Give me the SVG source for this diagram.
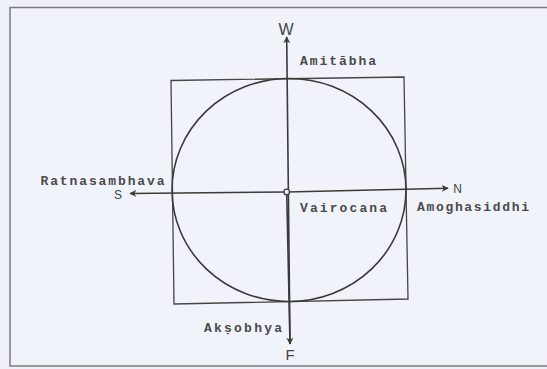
<svg xmlns="http://www.w3.org/2000/svg" width="547" height="369" viewBox="0 0 547 369">
  <style>
    .ln { fill: none; stroke: #3a3a3a; stroke-width: 1.6; }
    .thin { fill: none; stroke: #454545; stroke-width: 1.3; }
    .lbl { font-family: "Liberation Mono", "Courier New", monospace; font-weight: bold; font-size: 13px; fill: #4a4a4a; }
    .dir { font-family: "Liberation Sans", Arial, sans-serif; fill: #444; }
  </style>
  <defs>
    <marker id="arr" viewBox="0 0 10 10" refX="9" refY="5" markerWidth="7" markerHeight="7" orient="auto" markerUnits="userSpaceOnUse">
      <path d="M0,0 L10,5 L0,10 L3,5 Z" fill="#3a3a3a"/>
    </marker>
  </defs>
  <rect x="0" y="0" width="547" height="369" fill="#eef2f8"/>
  <g id="frame">
    <rect x="10" y="7.5" width="540" height="358.5" fill="#f0f3f9" stroke="#7a7a7a" stroke-width="1.5"/>
  </g>
  <g id="square">
    <polygon class="thin" points="171,80.5 404,77 408,299 174,304"/>
  </g>
  <g id="circle">
    <ellipse class="ln" cx="289" cy="190" rx="117" ry="111.5"/>
  </g>
  <g id="connectors">
    <line class="ln" x1="290" y1="344" x2="286.7" y2="37" marker-end="url(#arr)"/>
    <line class="ln" x1="286.7" y1="192" x2="290" y2="344" marker-end="url(#arr)"/>
    <line class="ln" x1="286.7" y1="192" x2="448" y2="188.3" marker-end="url(#arr)"/>
    <line class="ln" x1="286.7" y1="192" x2="130" y2="193.5" marker-end="url(#arr)"/>
  </g>
  <g id="vairocana">
    <circle cx="286.7" cy="192" r="2.8" fill="#eef2f8" stroke="#3a3a3a" stroke-width="1.3"/>
    <text class="lbl" x="300" y="211.5" textLength="87" lengthAdjust="spacing">Vairocana</text>
  </g>
  <g id="amitabha">
    <text class="lbl" x="300" y="65" textLength="76" lengthAdjust="spacing">Amitābha</text>
  </g>
  <g id="ratnasambhava">
    <text class="lbl" x="40.5" y="185" textLength="124" lengthAdjust="spacing">Ratnasambhava</text>
  </g>
  <g id="amoghasiddhi">
    <text class="lbl" x="417" y="210.5" textLength="112" lengthAdjust="spacing">Amoghasiddhi</text>
  </g>
  <g id="aksobhya">
    <text class="lbl" x="204" y="331.5" textLength="78" lengthAdjust="spacing">Akṣobhya</text>
  </g>
  <g id="directions">
    <text class="dir" x="286" y="35" font-size="16" text-anchor="middle">W</text>
    <text class="dir" x="290" y="360" font-size="15" text-anchor="middle">F</text>
    <text class="dir" x="118" y="198.5" font-size="12" text-anchor="middle">S</text>
    <text class="dir" x="457.5" y="192.5" font-size="12" text-anchor="middle">N</text>
  </g>
</svg>
